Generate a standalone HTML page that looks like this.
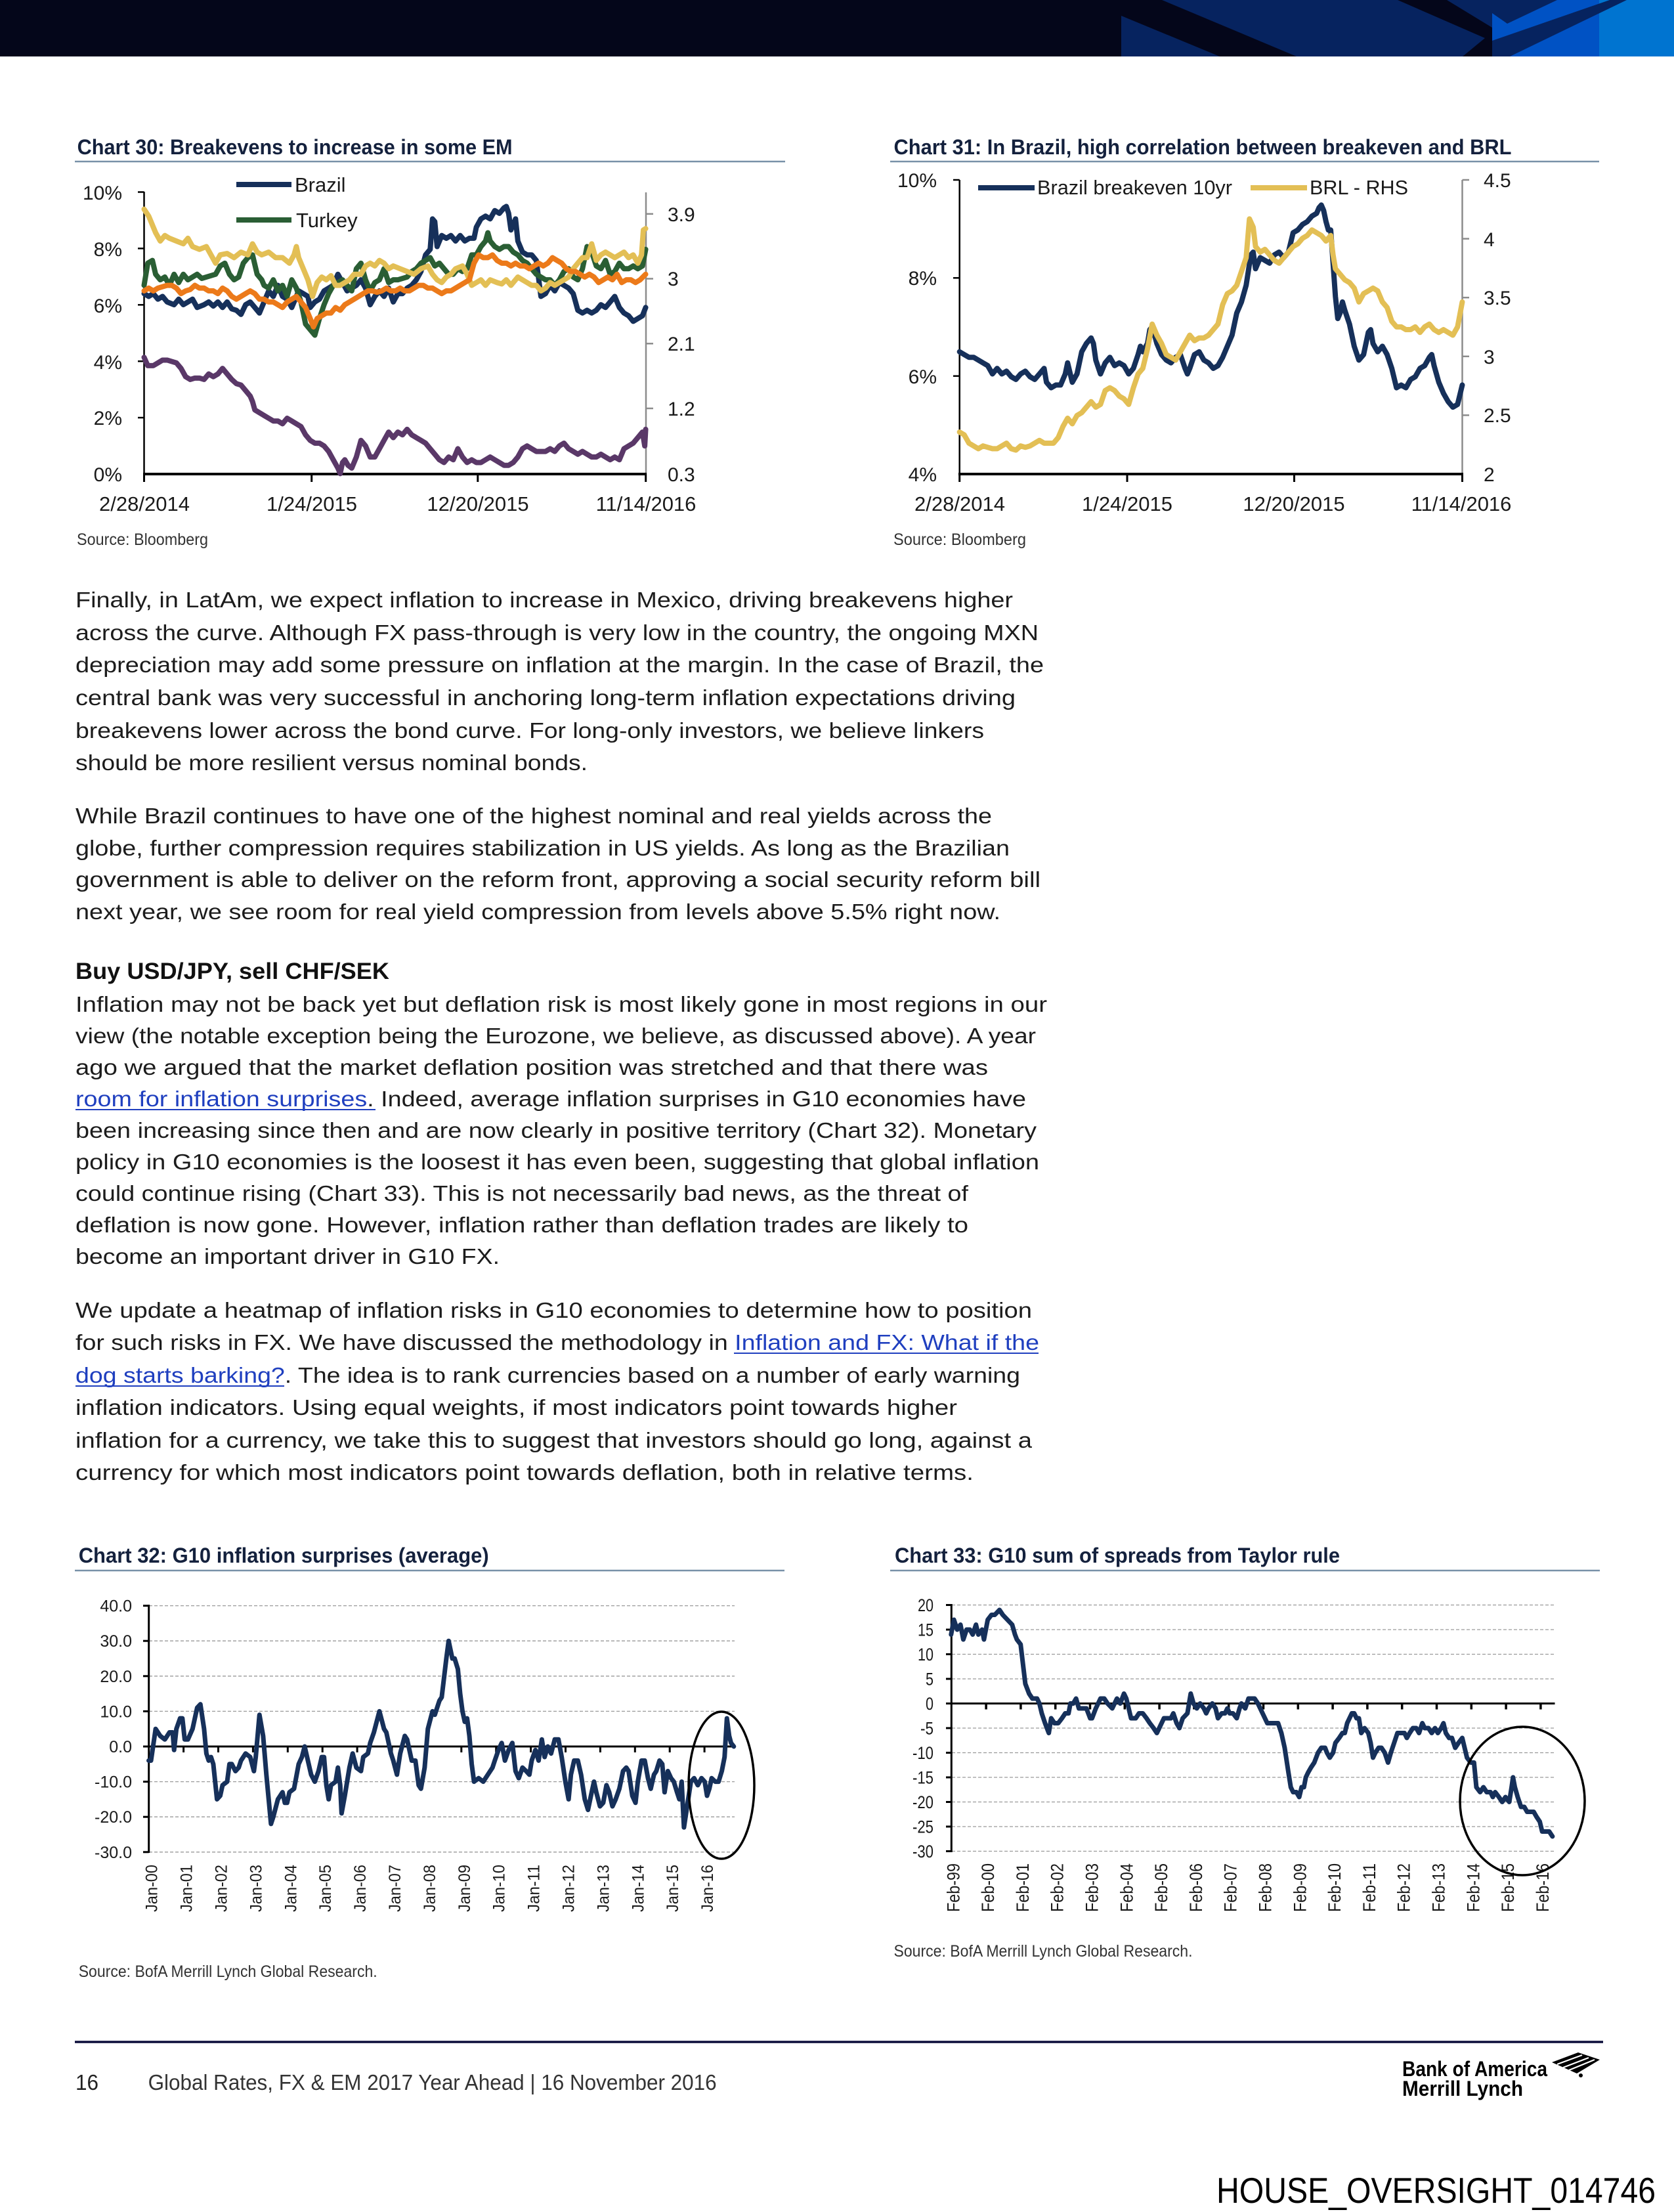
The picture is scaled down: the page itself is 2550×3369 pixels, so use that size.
<!DOCTYPE html>
<html>
<head>
<meta charset="utf-8">
<style>
html,body{margin:0;padding:0;background:#fff;}
body{width:2550px;height:3369px;overflow:hidden;}
svg{display:block;}
text{font-family:"Liberation Sans",Arial,sans-serif;}
</style>
</head>
<body>
<svg width="2550" height="3369" viewBox="0 0 2550 3369" xmlns="http://www.w3.org/2000/svg">
<rect x="0" y="0" width="2550" height="3369" fill="#ffffff"/>

<!-- Header band -->
<rect x="0" y="0" width="2550" height="86" fill="#04061a"/>
<rect x="1708" y="0" width="565" height="86" fill="#06235f"/>
<polygon points="1708,0 1770,0 1975,86 1858,86 1708,24" fill="#04061a"/>
<polygon points="2129,0 2204,0 2273,42 2273,86 2228,86 2262,58" fill="#04061a"/>
<rect x="2273" y="0" width="163" height="86" fill="#0052c4"/>
<rect x="2436" y="0" width="114" height="86" fill="#0074d0"/>
<polygon points="2273,0 2372,0 2296,36 2273,20" fill="#06235f"/>
<polygon points="2273,62 2452,0 2478,0 2300,86 2273,86" fill="#06235f"/>

<!-- ================= CHART 30 ================= -->
<text x="117.6" y="235" font-size="32" font-weight="bold" fill="#14213d" textLength="663" lengthAdjust="spacingAndGlyphs">Chart 30: Breakevens to increase in some EM</text>
<line x1="114" y1="246" x2="1196" y2="246" stroke="#7891a8" stroke-width="2.5"/>

<g font-size="30" fill="#1a1a1a" text-anchor="end">
<text x="186" y="304">10%</text>
<text x="186" y="390">8%</text>
<text x="186" y="476">6%</text>
<text x="186" y="562">4%</text>
<text x="186" y="647">2%</text>
<text x="186" y="733">0%</text>
</g>
<g font-size="30" fill="#1a1a1a">
<text x="1017" y="337">3.9</text>
<text x="1017" y="435">3</text>
<text x="1017" y="534">2.1</text>
<text x="1017" y="633">1.2</text>
<text x="1017" y="733">0.3</text>
</g>
<g font-size="31" fill="#1a1a1a" text-anchor="middle">
<text x="220" y="778">2/28/2014</text>
<text x="475" y="778">1/24/2015</text>
<text x="728" y="778">12/20/2015</text>
<text x="984" y="778">11/14/2016</text>
</g>
<!-- axes -->
<line x1="219.5" y1="292" x2="219.5" y2="722" stroke="#000" stroke-width="2.5"/>
<g stroke="#000" stroke-width="2.5">
<line x1="210" y1="292.5" x2="219.5" y2="292.5"/>
<line x1="210" y1="378.4" x2="219.5" y2="378.4"/>
<line x1="210" y1="464.3" x2="219.5" y2="464.3"/>
<line x1="210" y1="550.2" x2="219.5" y2="550.2"/>
<line x1="210" y1="636.1" x2="219.5" y2="636.1"/>
</g>
<line x1="984" y1="293" x2="984" y2="722" stroke="#8c8c8c" stroke-width="2.5"/>
<g stroke="#8c8c8c" stroke-width="2.5">
<line x1="984" y1="325.8" x2="995" y2="325.8"/>
<line x1="984" y1="424.5" x2="995" y2="424.5"/>
<line x1="984" y1="523.3" x2="995" y2="523.3"/>
<line x1="984" y1="622" x2="995" y2="622"/>
</g>
<line x1="218" y1="722" x2="985" y2="722" stroke="#000" stroke-width="4"/>
<g stroke="#000" stroke-width="3">
<line x1="219.5" y1="722" x2="219.5" y2="734"/>
<line x1="474.7" y1="722" x2="474.7" y2="734"/>
<line x1="727.8" y1="722" x2="727.8" y2="734"/>
<line x1="983.7" y1="722" x2="983.7" y2="734"/>
</g>
<!-- series -->
<g transform="translate(100 190) scale(0.7029 0.4217)" fill="none" stroke-linejoin="round" stroke-linecap="round">
<polyline vector-effect="non-scaling-stroke" stroke="#16305a" stroke-width="8" points="170,610 180,620 190,610 200,630 210,620 220,640 235,650 245,630 255,650 265,640 275,630 285,660 300,650 310,640 320,655 330,640 340,660 350,640 360,665 370,670 380,685 390,650 400,640 410,660 420,680 430,640 440,600 450,620 460,580 470,620 480,630 490,660 500,620 505,600 515,610 525,620 530,660 540,640 550,630 560,600 570,590 580,580 590,540 600,570 610,600 620,590 630,580 640,560 650,590 660,650 670,620 680,600 690,620 700,590 710,640 720,610 730,610 740,590 750,580 760,560 770,530 780,470 790,450 795,340 800,350 805,440 815,400 825,410 835,400 845,420 855,400 865,420 875,410 885,410 890,370 900,340 910,330 920,340 930,310 940,320 950,300 955,295 960,320 965,380 975,340 980,420 990,460 1000,470 1010,470 1020,490 1030,620 1040,610 1050,580 1060,600 1070,570 1080,580 1090,590 1100,610 1110,670 1120,680 1130,670 1140,680 1150,670 1160,650 1170,660 1180,640 1190,620 1200,660 1210,680 1220,690 1230,710 1240,700 1250,690 1257,660"/>
<polyline vector-effect="non-scaling-stroke" stroke="#2a5e34" stroke-width="8" points="170,580 178,500 188,490 195,540 205,560 215,550 225,580 235,540 245,570 255,540 265,560 275,550 285,540 295,555 305,550 315,545 325,540 335,510 345,500 355,540 365,560 375,550 385,500 395,480 405,470 415,540 425,560 430,580 440,590 450,560 460,600 470,580 480,620 490,560 500,590 510,640 520,720 530,740 540,760 550,700 560,650 570,610 580,580 590,570 600,560 610,580 620,600 630,520 640,500 650,560 660,600 670,570 680,560 690,520 700,570 710,560 720,560 730,555 740,550 750,530 760,520 770,500 780,490 790,480 800,510 810,500 820,520 830,540 840,540 850,520 860,530 870,520 880,470 890,470 900,440 910,420 915,390 920,420 930,440 940,450 950,440 960,440 970,460 980,470 990,490 1000,500 1010,520 1020,540 1030,550 1040,560 1050,560 1060,580 1070,560 1080,530 1090,520 1100,550 1110,560 1120,520 1130,440 1140,460 1150,510 1160,520 1170,490 1180,540 1190,530 1200,500 1210,520 1220,520 1230,510 1240,520 1250,510 1257,450"/>
<polyline vector-effect="non-scaling-stroke" stroke="#e3bf55" stroke-width="8" points="170,305 180,330 195,390 205,420 215,400 225,410 240,420 255,430 265,410 275,440 290,450 305,440 315,470 325,500 335,470 350,465 365,480 380,460 395,470 405,430 415,460 425,470 440,460 455,480 470,480 485,500 495,470 500,440 505,480 515,520 525,560 535,620 545,570 555,550 565,560 575,545 585,580 595,580 605,570 615,560 625,540 640,540 650,510 660,500 670,510 680,490 690,500 700,520 710,510 725,520 740,530 755,540 770,520 785,510 795,540 805,560 815,570 825,550 835,540 845,520 860,510 870,540 880,580 890,570 900,560 910,580 920,560 935,570 945,575 955,560 965,580 980,550 990,560 1000,570 1010,580 1020,580 1030,600 1040,590 1050,570 1060,580 1070,570 1080,560 1090,550 1100,520 1110,500 1120,480 1130,480 1140,430 1150,490 1160,470 1170,460 1180,470 1190,480 1200,470 1210,460 1220,480 1230,470 1240,500 1248,470 1252,380 1257,375"/>
<polyline vector-effect="non-scaling-stroke" stroke="#ec7a1a" stroke-width="8" points="170,600 180,590 190,600 200,590 210,585 220,580 230,580 240,590 250,610 260,600 270,595 280,580 290,590 300,590 310,600 320,600 330,610 340,590 350,600 360,620 370,630 380,620 390,610 400,600 410,610 420,630 430,630 440,640 450,640 460,650 470,660 480,640 490,630 500,620 510,640 520,660 530,700 537,730 545,700 555,690 565,680 575,680 585,660 595,670 605,650 615,640 625,630 635,620 645,610 655,600 665,600 675,605 685,600 695,590 705,600 715,600 725,590 735,600 745,600 755,590 765,580 775,580 785,590 795,590 805,600 815,610 825,600 835,600 845,590 855,580 865,570 875,560 885,500 895,470 905,480 915,480 925,470 935,490 945,500 955,500 965,510 975,500 985,510 995,510 1005,520 1015,510 1025,500 1035,510 1045,500 1055,480 1065,490 1075,500 1085,520 1095,530 1105,530 1115,540 1125,550 1135,540 1145,550 1155,570 1165,560 1175,550 1185,560 1195,540 1205,570 1215,560 1225,560 1235,570 1245,560 1257,540"/>
<polyline vector-effect="non-scaling-stroke" stroke="#5a3868" stroke-width="8" points="170,840 178,870 190,870 200,860 210,850 220,850 230,855 240,860 250,880 260,910 270,920 280,915 290,915 300,920 310,900 320,910 330,900 340,880 350,900 360,920 370,935 380,940 390,960 400,980 405,1000 410,1030 420,1040 430,1050 440,1060 450,1070 460,1070 470,1080 480,1060 490,1070 500,1080 510,1090 520,1120 530,1140 540,1150 550,1150 560,1160 570,1180 580,1210 590,1240 595,1260 600,1220 605,1210 612,1230 620,1240 630,1200 640,1140 650,1160 660,1200 670,1200 680,1170 690,1140 700,1110 710,1130 720,1110 730,1120 740,1100 750,1120 760,1130 770,1140 780,1150 790,1170 800,1190 810,1210 820,1220 830,1200 840,1210 850,1170 860,1200 870,1220 880,1210 890,1220 900,1220 910,1210 920,1200 930,1210 940,1220 950,1230 960,1230 970,1220 980,1200 990,1170 1000,1160 1010,1170 1020,1180 1030,1180 1040,1180 1050,1170 1060,1180 1070,1160 1080,1150 1090,1170 1100,1180 1110,1190 1120,1180 1130,1190 1140,1200 1150,1200 1160,1190 1170,1200 1180,1210 1190,1200 1200,1210 1210,1170 1220,1160 1230,1150 1240,1130 1250,1110 1255,1160 1257,1100"/>
</g>
<!-- legend -->
<line x1="360" y1="281" x2="444" y2="281" stroke="#16305a" stroke-width="8"/>
<line x1="360" y1="335" x2="444" y2="335" stroke="#2a5e34" stroke-width="8"/>
<text x="449" y="292" font-size="31" fill="#1a1a1a">Brazil</text>
<text x="451" y="346" font-size="31" fill="#1a1a1a">Turkey</text>
<text x="117" y="830" font-size="25" fill="#333" textLength="200" lengthAdjust="spacingAndGlyphs">Source: Bloomberg</text>

<!-- ================= CHART 31 ================= -->
<text x="1361.5" y="235" font-size="32" font-weight="bold" fill="#14213d" textLength="941" lengthAdjust="spacingAndGlyphs">Chart 31: In Brazil, high correlation between breakeven and BRL</text>
<line x1="1356" y1="246" x2="2436" y2="246" stroke="#7891a8" stroke-width="2.5"/>
<g font-size="30" fill="#1a1a1a" text-anchor="end">
<text x="1427" y="285">10%</text>
<text x="1427" y="434">8%</text>
<text x="1427" y="584">6%</text>
<text x="1427" y="733">4%</text>
</g>
<g font-size="30" fill="#1a1a1a">
<text x="2260" y="285">4.5</text>
<text x="2260" y="375">4</text>
<text x="2260" y="464">3.5</text>
<text x="2260" y="554">3</text>
<text x="2260" y="643">2.5</text>
<text x="2260" y="733">2</text>
</g>
<g font-size="31" fill="#1a1a1a" text-anchor="middle">
<text x="1462" y="778">2/28/2014</text>
<text x="1717" y="778">1/24/2015</text>
<text x="1971" y="778">12/20/2015</text>
<text x="2226" y="778">11/14/2016</text>
</g>
<line x1="1461.7" y1="274" x2="1461.7" y2="722" stroke="#000" stroke-width="2.5"/>
<g stroke="#000" stroke-width="2.5">
<line x1="1452" y1="274" x2="1461.7" y2="274"/>
<line x1="1452" y1="423.3" x2="1461.7" y2="423.3"/>
<line x1="1452" y1="572.7" x2="1461.7" y2="572.7"/>
</g>
<line x1="2227.5" y1="274" x2="2227.5" y2="722" stroke="#8c8c8c" stroke-width="2.5"/>
<g stroke="#8c8c8c" stroke-width="2.5">
<line x1="2227.5" y1="274" x2="2238" y2="274"/>
<line x1="2227.5" y1="363.6" x2="2238" y2="363.6"/>
<line x1="2227.5" y1="453.2" x2="2238" y2="453.2"/>
<line x1="2227.5" y1="542.8" x2="2238" y2="542.8"/>
<line x1="2227.5" y1="632.4" x2="2238" y2="632.4"/>
</g>
<line x1="1460" y1="722" x2="2229" y2="722" stroke="#000" stroke-width="4"/>
<g stroke="#000" stroke-width="3">
<line x1="1461.7" y1="722" x2="1461.7" y2="734"/>
<line x1="1717" y1="722" x2="1717" y2="734"/>
<line x1="1971.5" y1="722" x2="1971.5" y2="734"/>
<line x1="2227.5" y1="722" x2="2227.5" y2="734"/>
</g>
<g transform="translate(1340 190) scale(0.7157 0.4217)" fill="none" stroke-linejoin="round" stroke-linecap="round">
<polyline vector-effect="non-scaling-stroke" stroke="#16305a" stroke-width="8" points="170,820 180,830 190,840 200,840 210,850 220,860 230,870 240,900 250,880 260,900 270,890 280,910 290,920 300,900 310,890 320,910 330,920 340,900 350,880 355,930 365,950 375,940 385,940 395,900 400,860 410,930 420,900 430,820 440,790 450,770 455,790 460,850 470,900 480,860 490,840 500,870 510,860 520,870 530,900 540,880 550,830 555,800 560,820 570,790 575,740 580,730 590,790 600,830 610,850 620,860 630,840 640,830 650,880 655,900 660,880 670,830 680,820 690,850 700,860 710,880 720,870 730,840 740,800 750,760 760,680 770,640 780,580 790,470 795,460 800,520 810,480 820,490 830,500 840,470 850,460 860,480 870,460 880,390 890,380 900,360 910,350 920,330 930,320 935,300 940,290 945,310 950,350 955,380 960,380 965,500 970,620 975,700 980,680 985,640 990,670 1000,720 1010,800 1020,850 1030,830 1040,750 1045,740 1050,790 1060,820 1070,800 1080,830 1090,880 1100,950 1110,940 1120,950 1130,920 1140,910 1150,880 1160,870 1170,840 1175,830 1180,870 1190,930 1200,970 1210,1000 1220,1020 1230,1010 1240,940"/>
<polyline vector-effect="non-scaling-stroke" stroke="#e3bf55" stroke-width="8" points="170,1110 180,1120 190,1150 200,1160 210,1170 220,1160 230,1165 240,1170 250,1170 260,1160 270,1150 280,1170 290,1175 300,1160 310,1165 320,1160 330,1150 340,1140 350,1150 360,1150 370,1150 380,1130 390,1090 400,1060 410,1080 420,1050 430,1040 440,1020 450,1000 460,1020 470,1010 480,960 490,950 500,960 510,980 520,990 530,1010 540,950 550,900 560,880 570,810 580,720 590,760 600,790 610,830 620,840 630,850 640,820 650,790 660,760 670,780 680,770 690,770 700,760 710,740 720,720 730,650 740,610 750,600 760,580 770,530 780,480 787,340 795,370 800,440 810,460 820,450 830,470 840,490 850,500 860,480 870,460 880,440 890,430 900,410 910,400 920,380 930,390 940,400 950,420 960,400 965,470 970,520 980,540 990,560 1000,570 1010,590 1020,640 1030,610 1040,600 1050,590 1060,600 1070,640 1080,660 1090,710 1100,730 1110,730 1120,740 1130,740 1140,730 1150,750 1160,730 1170,720 1180,740 1190,750 1200,740 1210,750 1220,760 1230,730 1240,640"/>
</g>
<line x1="1490" y1="286" x2="1576" y2="286" stroke="#16305a" stroke-width="8"/>
<text x="1580" y="296" font-size="31" fill="#1a1a1a" textLength="297" lengthAdjust="spacingAndGlyphs">Brazil breakeven 10yr</text>
<line x1="1905" y1="286" x2="1991" y2="286" stroke="#e3bf55" stroke-width="8"/>
<text x="1995" y="296" font-size="31" fill="#1a1a1a" textLength="150" lengthAdjust="spacingAndGlyphs">BRL - RHS</text>
<text x="1361" y="830" font-size="25" fill="#333" textLength="202" lengthAdjust="spacingAndGlyphs">Source: Bloomberg</text>

<!-- ================= BODY TEXT ================= -->
<g font-size="33" fill="#1c1c1c">
<text x="115" y="925" textLength="1428" lengthAdjust="spacingAndGlyphs">Finally, in LatAm, we expect inflation to increase in Mexico, driving breakevens higher</text>
<text x="115" y="975" textLength="1467" lengthAdjust="spacingAndGlyphs">across the curve. Although FX pass-through is very low in the country, the ongoing MXN</text>
<text x="115" y="1024" textLength="1475" lengthAdjust="spacingAndGlyphs">depreciation may add some pressure on inflation at the margin. In the case of Brazil, the</text>
<text x="115" y="1074" textLength="1432" lengthAdjust="spacingAndGlyphs">central bank was very successful in anchoring long-term inflation expectations driving</text>
<text x="115" y="1124" textLength="1384" lengthAdjust="spacingAndGlyphs">breakevens lower across the bond curve. For long-only investors, we believe linkers</text>
<text x="115" y="1173" textLength="780" lengthAdjust="spacingAndGlyphs">should be more resilient versus nominal bonds.</text>

<text x="115" y="1254" textLength="1396" lengthAdjust="spacingAndGlyphs">While Brazil continues to have one of the highest nominal and real yields across the</text>
<text x="115" y="1303" textLength="1423" lengthAdjust="spacingAndGlyphs">globe, further compression requires stabilization in US yields. As long as the Brazilian</text>
<text x="115" y="1351" textLength="1470" lengthAdjust="spacingAndGlyphs">government is able to deliver on the reform front, approving a social security reform bill</text>
<text x="115" y="1400" textLength="1409" lengthAdjust="spacingAndGlyphs">next year, we see room for real yield compression from levels above 5.5% right now.</text>

<text x="115" y="1491" font-size="35" font-weight="bold" fill="#111" textLength="478" lengthAdjust="spacingAndGlyphs">Buy USD/JPY, sell CHF/SEK</text>
<text x="115" y="1541" textLength="1480" lengthAdjust="spacingAndGlyphs">Inflation may not be back yet but deflation risk is most likely gone in most regions in our</text>
<text x="115" y="1589" textLength="1463" lengthAdjust="spacingAndGlyphs">view (the notable exception being the Eurozone, we believe, as discussed above). A year</text>
<text x="115" y="1637" textLength="1390" lengthAdjust="spacingAndGlyphs">ago we argued that the market deflation position was stretched and that there was</text>
<text x="115" y="1685" textLength="1448" lengthAdjust="spacingAndGlyphs"><tspan fill="#1f3fbf">room for inflation surprises</tspan>. Indeed, average inflation surprises in G10 economies have</text>
<text x="115" y="1733" textLength="1464" lengthAdjust="spacingAndGlyphs">been increasing since then and are now clearly in positive territory (Chart 32). Monetary</text>
<text x="115" y="1781" textLength="1468" lengthAdjust="spacingAndGlyphs">policy in G10 economies is the loosest it has even been, suggesting that global inflation</text>
<text x="115" y="1829" textLength="1360" lengthAdjust="spacingAndGlyphs">could continue rising (Chart 33). This is not necessarily bad news, as the threat of</text>
<text x="115" y="1877" textLength="1360" lengthAdjust="spacingAndGlyphs">deflation is now gone. However, inflation rather than deflation trades are likely to</text>
<text x="115" y="1925" textLength="646" lengthAdjust="spacingAndGlyphs">become an important driver in G10 FX.</text>

<text x="115" y="2007" textLength="1457" lengthAdjust="spacingAndGlyphs">We update a heatmap of inflation risks in G10 economies to determine how to position</text>
<text x="115" y="2056" textLength="1468" lengthAdjust="spacingAndGlyphs">for such risks in FX. We have discussed the methodology in <tspan fill="#1f3fbf">Inflation and FX: What if the</tspan></text>
<text x="115" y="2106" textLength="1439" lengthAdjust="spacingAndGlyphs"><tspan fill="#1f3fbf">dog starts barking?</tspan>. The idea is to rank currencies based on a number of early warning</text>
<text x="115" y="2155" textLength="1343" lengthAdjust="spacingAndGlyphs">inflation indicators. Using equal weights, if most indicators point towards higher</text>
<text x="115" y="2205" textLength="1457" lengthAdjust="spacingAndGlyphs">inflation for a currency, we take this to suggest that investors should go long, against a</text>
<text x="115" y="2254" textLength="1368" lengthAdjust="spacingAndGlyphs">currency for which most indicators point towards deflation, both in relative terms.</text>
</g>
<g stroke="#1f3fbf" stroke-width="2">
<line x1="115" y1="1690" x2="572" y2="1690"/>
<line x1="1118" y1="2061" x2="1582" y2="2061"/>
<line x1="115" y1="2111" x2="433" y2="2111"/>
</g>

<!-- ================= CHART 32 ================= -->
<text x="119.7" y="2380" font-size="32" font-weight="bold" fill="#14213d" textLength="625" lengthAdjust="spacingAndGlyphs">Chart 32: G10 inflation surprises (average)</text>
<line x1="114" y1="2392" x2="1195" y2="2392" stroke="#7891a8" stroke-width="2.5"/>
<g stroke="#9a9a9a" stroke-width="1.3" stroke-dasharray="5,3">
<line x1="227" y1="2445.6" x2="1119" y2="2445.6"/>
<line x1="227" y1="2499.2" x2="1119" y2="2499.2"/>
<line x1="227" y1="2552.8" x2="1119" y2="2552.8"/>
<line x1="227" y1="2606.4" x2="1119" y2="2606.4"/>
<line x1="227" y1="2713.6" x2="1119" y2="2713.6"/>
<line x1="227" y1="2767.2" x2="1119" y2="2767.2"/>
<line x1="227" y1="2820.8" x2="1119" y2="2820.8"/>
</g>
<g font-size="25" fill="#1a1a1a" text-anchor="end">
<text x="201" y="2454.6">40.0</text>
<text x="201" y="2508.2">30.0</text>
<text x="201" y="2561.8">20.0</text>
<text x="201" y="2615.4">10.0</text>
<text x="201" y="2669">0.0</text>
<text x="201" y="2722.6">-10.0</text>
<text x="201" y="2776.2">-20.0</text>
<text x="201" y="2829.8">-30.0</text>
</g>
<line x1="226.7" y1="2444" x2="226.7" y2="2822" stroke="#000" stroke-width="3"/>
<g stroke="#000" stroke-width="3">
<line x1="218" y1="2445.6" x2="226.7" y2="2445.6"/>
<line x1="218" y1="2499.2" x2="226.7" y2="2499.2"/>
<line x1="218" y1="2552.8" x2="226.7" y2="2552.8"/>
<line x1="218" y1="2606.4" x2="226.7" y2="2606.4"/>
<line x1="218" y1="2660" x2="226.7" y2="2660"/>
<line x1="218" y1="2713.6" x2="226.7" y2="2713.6"/>
<line x1="218" y1="2767.2" x2="226.7" y2="2767.2"/>
<line x1="218" y1="2820.8" x2="226.7" y2="2820.8"/>
</g>
<line x1="226.7" y1="2660" x2="1119" y2="2660" stroke="#000" stroke-width="3"/>
<g stroke="#000" stroke-width="3">
<line x1="279.6" y1="2660" x2="279.6" y2="2669"/>
<line x1="332.5" y1="2660" x2="332.5" y2="2669"/>
<line x1="385.4" y1="2660" x2="385.4" y2="2669"/>
<line x1="438.3" y1="2660" x2="438.3" y2="2669"/>
<line x1="491.2" y1="2660" x2="491.2" y2="2669"/>
<line x1="544.1" y1="2660" x2="544.1" y2="2669"/>
<line x1="597" y1="2660" x2="597" y2="2669"/>
<line x1="649.9" y1="2660" x2="649.9" y2="2669"/>
<line x1="702.8" y1="2660" x2="702.8" y2="2669"/>
<line x1="755.7" y1="2660" x2="755.7" y2="2669"/>
<line x1="808.6" y1="2660" x2="808.6" y2="2669"/>
<line x1="861.5" y1="2660" x2="861.5" y2="2669"/>
<line x1="914.4" y1="2660" x2="914.4" y2="2669"/>
<line x1="967.3" y1="2660" x2="967.3" y2="2669"/>
<line x1="1020.2" y1="2660" x2="1020.2" y2="2669"/>
<line x1="1073.1" y1="2660" x2="1073.1" y2="2669"/>
</g>
<g font-size="25" fill="#1a1a1a" text-anchor="end">
<text transform="translate(239.7 2840) rotate(-90)" textLength="72" lengthAdjust="spacingAndGlyphs">Jan-00</text>
<text transform="translate(292.6 2840) rotate(-90)" textLength="72" lengthAdjust="spacingAndGlyphs">Jan-01</text>
<text transform="translate(345.5 2840) rotate(-90)" textLength="72" lengthAdjust="spacingAndGlyphs">Jan-02</text>
<text transform="translate(398.4 2840) rotate(-90)" textLength="72" lengthAdjust="spacingAndGlyphs">Jan-03</text>
<text transform="translate(451.3 2840) rotate(-90)" textLength="72" lengthAdjust="spacingAndGlyphs">Jan-04</text>
<text transform="translate(504.2 2840) rotate(-90)" textLength="72" lengthAdjust="spacingAndGlyphs">Jan-05</text>
<text transform="translate(557.1 2840) rotate(-90)" textLength="72" lengthAdjust="spacingAndGlyphs">Jan-06</text>
<text transform="translate(610 2840) rotate(-90)" textLength="72" lengthAdjust="spacingAndGlyphs">Jan-07</text>
<text transform="translate(662.9 2840) rotate(-90)" textLength="72" lengthAdjust="spacingAndGlyphs">Jan-08</text>
<text transform="translate(715.8 2840) rotate(-90)" textLength="72" lengthAdjust="spacingAndGlyphs">Jan-09</text>
<text transform="translate(768.7 2840) rotate(-90)" textLength="72" lengthAdjust="spacingAndGlyphs">Jan-10</text>
<text transform="translate(821.6 2840) rotate(-90)" textLength="72" lengthAdjust="spacingAndGlyphs">Jan-11</text>
<text transform="translate(874.5 2840) rotate(-90)" textLength="72" lengthAdjust="spacingAndGlyphs">Jan-12</text>
<text transform="translate(927.4 2840) rotate(-90)" textLength="72" lengthAdjust="spacingAndGlyphs">Jan-13</text>
<text transform="translate(980.3 2840) rotate(-90)" textLength="72" lengthAdjust="spacingAndGlyphs">Jan-14</text>
<text transform="translate(1033.2 2840) rotate(-90)" textLength="72" lengthAdjust="spacingAndGlyphs">Jan-15</text>
<text transform="translate(1086.1 2840) rotate(-90)" textLength="72" lengthAdjust="spacingAndGlyphs">Jan-16</text>
</g>
<g transform="translate(100 2660) scale(0.7029 -5.36)" fill="none" stroke-linejoin="round" stroke-linecap="round">
<polyline vector-effect="non-scaling-stroke" stroke="#16305a" stroke-width="7" points="180,-4 185,-4 195,5 205,3 215,2 225,4 232,4 235,-1 240,5 248,8 253,8 258,2 265,2 275,5 285,11 292,12 300,5 305,-2 310,-4 315,-3 320,-5 328,-15 335,-14 340,-11 350,-10 355,-5 360,-5 368,-7 375,-6 380,-4 390,-2 400,-3 408,-7 412,-3 420,9 428,3 435,-8 440,-15 445,-22 450,-20 460,-15 470,-13 475,-16 480,-16 485,-13 495,-12 505,-5 512,-3 518,0 525,-4 532,-8 540,-10 548,-7 555,-3 560,-3 565,-11 570,-15 575,-11 585,-10 590,-6 595,-11 598,-19 605,-14 615,-6 622,-2 630,-6 640,-7 645,-3 655,-2 660,1 668,4 680,10 690,5 695,4 705,-2 710,-4 718,-8 725,-2 735,3 740,2 750,-4 758,-4 765,-11 770,-12 778,-6 785,5 795,10 800,9 810,13 815,14 825,25 830,30 838,25 843,25 850,22 855,15 860,10 865,7 870,8 875,3 880,-5 885,-10 895,-9 905,-10 915,-8 925,-6 930,-4 938,-1 945,1 952,-4 960,-1 968,1 975,-7 982,-9 990,-6 998,-7 1005,-8 1010,-4 1018,-1 1025,-4 1032,2 1038,-3 1045,0 1052,-2 1060,2 1068,2 1075,-3 1083,-10 1090,-15 1095,-8 1102,-4 1110,-4 1117,-8 1125,-15 1132,-18 1140,-13 1145,-10 1150,-13 1158,-17 1165,-16 1172,-11 1178,-13 1185,-17 1192,-15 1200,-12 1208,-7 1215,-6 1220,-7 1228,-14 1235,-16 1240,-10 1248,-4 1255,-4 1262,-9 1268,-12 1275,-8 1280,-7 1287,-4 1293,-5 1298,-13 1305,-7 1312,-9 1318,-10 1325,-13 1330,-15 1335,-10 1340,-23 1348,-16 1355,-10 1362,-9 1370,-11 1378,-9 1385,-10 1390,-14 1395,-12 1400,-9 1408,-10 1415,-10 1422,-7 1428,-3 1433,8 1438,3 1442,1 1448,0"/>
</g>
<ellipse cx="1099" cy="2719" rx="50" ry="112" fill="none" stroke="#000" stroke-width="3.5"/>
<text x="119.7" y="3011" font-size="25" fill="#333" textLength="455" lengthAdjust="spacingAndGlyphs">Source: BofA Merrill Lynch Global Research.</text>

<!-- ================= CHART 33 ================= -->
<text x="1363" y="2380" font-size="32" font-weight="bold" fill="#14213d" textLength="678" lengthAdjust="spacingAndGlyphs">Chart 33: G10 sum of spreads from Taylor rule</text>
<line x1="1356" y1="2392" x2="2437" y2="2392" stroke="#7891a8" stroke-width="2.5"/>
<g stroke="#9a9a9a" stroke-width="1.3" stroke-dasharray="5,3">
<line x1="1450" y1="2444.5" x2="2368.5" y2="2444.5"/>
<line x1="1450" y1="2482" x2="2368.5" y2="2482"/>
<line x1="1450" y1="2519.5" x2="2368.5" y2="2519.5"/>
<line x1="1450" y1="2557" x2="2368.5" y2="2557"/>
<line x1="1450" y1="2632" x2="2368.5" y2="2632"/>
<line x1="1450" y1="2669.5" x2="2368.5" y2="2669.5"/>
<line x1="1450" y1="2707" x2="2368.5" y2="2707"/>
<line x1="1450" y1="2744.5" x2="2368.5" y2="2744.5"/>
<line x1="1450" y1="2782" x2="2368.5" y2="2782"/>
<line x1="1450" y1="2819.5" x2="2368.5" y2="2819.5"/>
</g>
<g font-size="27" fill="#1a1a1a" text-anchor="end">
<text x="1422" y="2454" textLength="24" lengthAdjust="spacingAndGlyphs">20</text>
<text x="1422" y="2491.5" textLength="24" lengthAdjust="spacingAndGlyphs">15</text>
<text x="1422" y="2529" textLength="24" lengthAdjust="spacingAndGlyphs">10</text>
<text x="1422" y="2566.5" textLength="12" lengthAdjust="spacingAndGlyphs">5</text>
<text x="1422" y="2604" textLength="12" lengthAdjust="spacingAndGlyphs">0</text>
<text x="1422" y="2641.5" textLength="20" lengthAdjust="spacingAndGlyphs">-5</text>
<text x="1422" y="2679" textLength="32" lengthAdjust="spacingAndGlyphs">-10</text>
<text x="1422" y="2716.5" textLength="32" lengthAdjust="spacingAndGlyphs">-15</text>
<text x="1422" y="2754" textLength="32" lengthAdjust="spacingAndGlyphs">-20</text>
<text x="1422" y="2791.5" textLength="32" lengthAdjust="spacingAndGlyphs">-25</text>
<text x="1422" y="2829" textLength="32" lengthAdjust="spacingAndGlyphs">-30</text>
</g>
<line x1="1449.3" y1="2443" x2="1449.3" y2="2821" stroke="#000" stroke-width="3"/>
<g stroke="#000" stroke-width="3">
<line x1="1441" y1="2444.5" x2="1449.3" y2="2444.5"/>
<line x1="1441" y1="2482" x2="1449.3" y2="2482"/>
<line x1="1441" y1="2519.5" x2="1449.3" y2="2519.5"/>
<line x1="1441" y1="2557" x2="1449.3" y2="2557"/>
<line x1="1441" y1="2594.5" x2="1449.3" y2="2594.5"/>
<line x1="1441" y1="2632" x2="1449.3" y2="2632"/>
<line x1="1441" y1="2669.5" x2="1449.3" y2="2669.5"/>
<line x1="1441" y1="2707" x2="1449.3" y2="2707"/>
<line x1="1441" y1="2744.5" x2="1449.3" y2="2744.5"/>
<line x1="1441" y1="2782" x2="1449.3" y2="2782"/>
<line x1="1441" y1="2819.5" x2="1449.3" y2="2819.5"/>
</g>
<line x1="1449.3" y1="2594.5" x2="2368.5" y2="2594.5" stroke="#000" stroke-width="3"/>
<g stroke="#000" stroke-width="3.5">
<line x1="1502.1" y1="2594.5" x2="1502.1" y2="2603.5"/>
<line x1="1554.9" y1="2594.5" x2="1554.9" y2="2603.5"/>
<line x1="1607.7" y1="2594.5" x2="1607.7" y2="2603.5"/>
<line x1="1660.5" y1="2594.5" x2="1660.5" y2="2603.5"/>
<line x1="1713.3" y1="2594.5" x2="1713.3" y2="2603.5"/>
<line x1="1766.1" y1="2594.5" x2="1766.1" y2="2603.5"/>
<line x1="1818.9" y1="2594.5" x2="1818.9" y2="2603.5"/>
<line x1="1871.7" y1="2594.5" x2="1871.7" y2="2603.5"/>
<line x1="1924.5" y1="2594.5" x2="1924.5" y2="2603.5"/>
<line x1="1977.3" y1="2594.5" x2="1977.3" y2="2603.5"/>
<line x1="2030.1" y1="2594.5" x2="2030.1" y2="2603.5"/>
<line x1="2082.9" y1="2594.5" x2="2082.9" y2="2603.5"/>
<line x1="2135.7" y1="2594.5" x2="2135.7" y2="2603.5"/>
<line x1="2188.5" y1="2594.5" x2="2188.5" y2="2603.5"/>
<line x1="2241.3" y1="2594.5" x2="2241.3" y2="2603.5"/>
<line x1="2294.1" y1="2594.5" x2="2294.1" y2="2603.5"/>
<line x1="2346.9" y1="2594.5" x2="2346.9" y2="2603.5"/>
</g>
<g font-size="27" fill="#1a1a1a" text-anchor="end">
<text transform="translate(1461.3 2838) rotate(-90)" textLength="74" lengthAdjust="spacingAndGlyphs">Feb-99</text>
<text transform="translate(1514.1 2838) rotate(-90)" textLength="74" lengthAdjust="spacingAndGlyphs">Feb-00</text>
<text transform="translate(1566.9 2838) rotate(-90)" textLength="74" lengthAdjust="spacingAndGlyphs">Feb-01</text>
<text transform="translate(1619.7 2838) rotate(-90)" textLength="74" lengthAdjust="spacingAndGlyphs">Feb-02</text>
<text transform="translate(1672.5 2838) rotate(-90)" textLength="74" lengthAdjust="spacingAndGlyphs">Feb-03</text>
<text transform="translate(1725.3 2838) rotate(-90)" textLength="74" lengthAdjust="spacingAndGlyphs">Feb-04</text>
<text transform="translate(1778.1 2838) rotate(-90)" textLength="74" lengthAdjust="spacingAndGlyphs">Feb-05</text>
<text transform="translate(1830.9 2838) rotate(-90)" textLength="74" lengthAdjust="spacingAndGlyphs">Feb-06</text>
<text transform="translate(1883.7 2838) rotate(-90)" textLength="74" lengthAdjust="spacingAndGlyphs">Feb-07</text>
<text transform="translate(1936.5 2838) rotate(-90)" textLength="74" lengthAdjust="spacingAndGlyphs">Feb-08</text>
<text transform="translate(1989.3 2838) rotate(-90)" textLength="74" lengthAdjust="spacingAndGlyphs">Feb-09</text>
<text transform="translate(2042.1 2838) rotate(-90)" textLength="74" lengthAdjust="spacingAndGlyphs">Feb-10</text>
<text transform="translate(2094.9 2838) rotate(-90)" textLength="74" lengthAdjust="spacingAndGlyphs">Feb-11</text>
<text transform="translate(2147.7 2838) rotate(-90)" textLength="74" lengthAdjust="spacingAndGlyphs">Feb-12</text>
<text transform="translate(2200.5 2838) rotate(-90)" textLength="74" lengthAdjust="spacingAndGlyphs">Feb-13</text>
<text transform="translate(2253.3 2838) rotate(-90)" textLength="74" lengthAdjust="spacingAndGlyphs">Feb-14</text>
<text transform="translate(2306.1 2838) rotate(-90)" textLength="74" lengthAdjust="spacingAndGlyphs">Feb-15</text>
<text transform="translate(2358.9 2838) rotate(-90)" textLength="74" lengthAdjust="spacingAndGlyphs">Feb-16</text>
</g>
<g transform="translate(1340 2594.5) scale(0.7157 -7.5)" fill="none" stroke-linejoin="round" stroke-linecap="round">
<polyline vector-effect="non-scaling-stroke" stroke="#16305a" stroke-width="7" points="152,14 158,17 165,15 172,16 178,13 185,15 192,15 198,14 205,16 210,14 218,15 222,13 230,17 238,18 245,18 255,19 262,18 272,17 282,16 288,14 292,13 300,12 305,8 310,4 318,2 325,1 335,1 340,0 345,-2 352,-4 360,-6 365,-3 372,-4 380,-4 388,-3 395,-2 402,-2 406,0 412,0 418,1 424,-1 430,-1 440,-1 448,-3 452,-3 460,-1 470,1 478,1 485,0 495,-1 505,1 512,0 520,2 525,1 530,-1 535,-3 545,-3 552,-2 560,-2 568,-3 575,-4 583,-5 590,-6 600,-4 605,-3 612,-3 620,-3 625,-2 632,-4 638,-5 645,-3 655,-2 662,2 668,0 675,-1 682,0 690,-1 695,-2 700,-1 708,0 715,-1 720,-3 728,-2 735,-2 740,-1 745,-2 752,-2 760,-3 766,-1 770,0 778,-1 785,1 792,1 798,1 805,0 810,-1 815,-2 820,-3 825,-4 830,-4 838,-4 843,-4 848,-4 855,-6 862,-9 870,-14 875,-17 880,-18 887,-18 893,-19 898,-17 903,-17 907,-15 912,-14 918,-13 925,-12 933,-10 940,-9 948,-9 952,-10 958,-11 965,-10 970,-8 978,-7 985,-6 990,-6 995,-4 1000,-3 1005,-2 1010,-2 1015,-3 1020,-3 1025,-6 1032,-5 1040,-6 1045,-8 1050,-11 1055,-10 1062,-9 1068,-9 1075,-10 1082,-12 1088,-10 1095,-8 1102,-6 1110,-6 1117,-6 1122,-7 1128,-6 1135,-5 1142,-5 1148,-6 1155,-4 1160,-5 1168,-5 1175,-6 1182,-5 1188,-6 1195,-5 1200,-4 1205,-6 1212,-7 1218,-7 1225,-9 1232,-8 1240,-7 1245,-9 1250,-11 1258,-12 1265,-12 1270,-17 1278,-18 1285,-17 1292,-18 1300,-18 1305,-19 1310,-18 1318,-19 1325,-20 1332,-19 1340,-20 1345,-17 1348,-15 1352,-17 1358,-19 1365,-21 1372,-21 1378,-22 1385,-22 1392,-22 1398,-23 1405,-24 1410,-26 1418,-26 1425,-26 1432,-27"/>
</g>
<ellipse cx="2319" cy="2743" rx="95" ry="113" fill="none" stroke="#000" stroke-width="3.5"/>
<text x="1361.5" y="2980" font-size="25" fill="#333" textLength="455" lengthAdjust="spacingAndGlyphs">Source: BofA Merrill Lynch Global Research.</text>

<!-- ================= FOOTER ================= -->
<line x1="114" y1="3110" x2="2442" y2="3110" stroke="#0b0d3a" stroke-width="3.5"/>
<text x="115" y="3183" font-size="33" fill="#222" textLength="35" lengthAdjust="spacingAndGlyphs">16</text>
<text x="225.6" y="3183" font-size="33" fill="#333" textLength="866" lengthAdjust="spacingAndGlyphs">Global Rates, FX &amp; EM 2017 Year Ahead | 16 November 2016</text>
<text x="2136" y="3162" font-size="32" font-weight="bold" fill="#000" textLength="221" lengthAdjust="spacingAndGlyphs">Bank of America</text>
<text x="2136" y="3192" font-size="32" font-weight="bold" fill="#000" textLength="184" lengthAdjust="spacingAndGlyphs">Merrill Lynch</text>
<!-- flag logo -->
<polygon points="2364,3141 2404,3126 2437,3137 2402,3158" fill="#000"/>
<g stroke="#fff" stroke-width="2.2" fill="none">
<line x1="2372" y1="3144" x2="2410" y2="3130"/>
<line x1="2381" y1="3149" x2="2420" y2="3134"/>
<line x1="2390" y1="3153" x2="2429" y2="3137"/>
</g>
<circle cx="2408" cy="3161" r="3" fill="#000"/>

<text x="1853" y="3355" font-size="55" fill="#000" textLength="669" lengthAdjust="spacingAndGlyphs">HOUSE_OVERSIGHT_014746</text>
</svg>
</body>
</html>
